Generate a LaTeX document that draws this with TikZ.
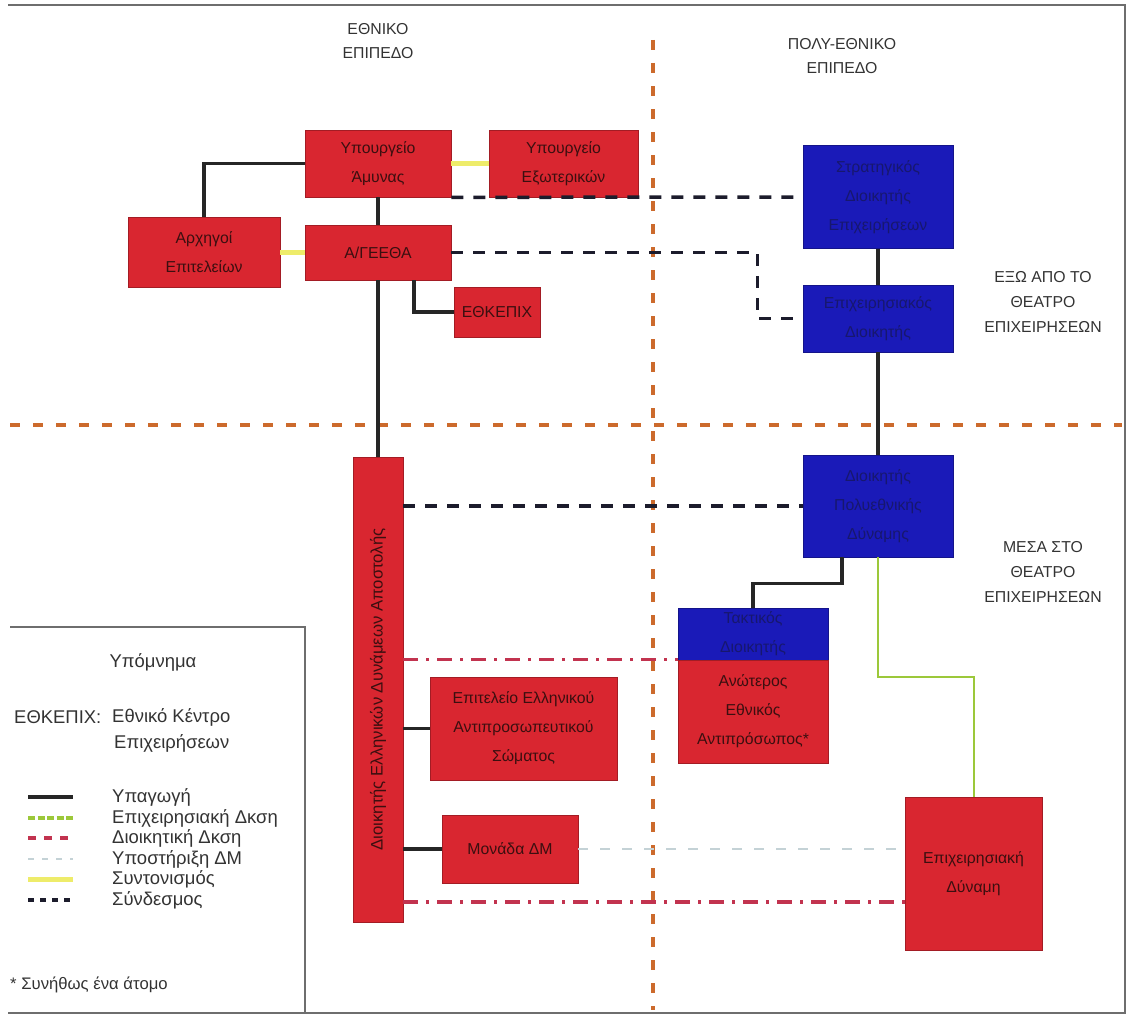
\documentclass[tikz,border=0pt]{standalone}
\usepackage{fontspec}
\setmainfont{Liberation Sans}
\usepackage{tikz}
\usetikzlibrary{positioning,calc}
\definecolor{natred}{HTML}{D92630}
\definecolor{mnblue}{HTML}{1A1AB8}
\definecolor{redink}{HTML}{3B0F10}
\definecolor{blueink}{HTML}{17176E}
\definecolor{headink}{HTML}{333333}
\definecolor{divorange}{HTML}{CC6A2C}
\definecolor{opgreen}{HTML}{9CC83A}
\definecolor{coordyellow}{HTML}{EEEC6A}
\definecolor{admred}{HTML}{C2334F}
\definecolor{dmgrey}{HTML}{C4D2D6}
\definecolor{liaisonink}{HTML}{1C1C2C}
\definecolor{frameink}{HTML}{6E6E6E}

\begin{document}
\begin{tikzpicture}[x=0.2mm,y=-0.2mm,font=\fontsize{9}{16.5}\selectfont,
  natbox/.style={draw=natred!75!black,fill=natred,text=redink,align=center,inner sep=1pt},
  mnbox/.style={draw=mnblue!75!black,fill=mnblue,text=blueink,align=center,inner sep=1pt},
  heading/.style={text=headink,align=center,font=\fontsize{9}{14}\selectfont},
  cmdline/.style={line width=0.7mm,black!85},
  coordline/.style={line width=1mm,coordyellow},
  liaison/.style={line width=0.7mm,liaisonink,dash pattern=on 2.4mm off 2mm},
  opline/.style={line width=0.4mm,opgreen},
  admline/.style={line width=0.7mm,admred,dash pattern=on 3mm off 1.6mm on 0.6mm off 1.6mm},
  dmline/.style={line width=0.5mm,dmgrey,dash pattern=on 2mm off 2.4mm},
  divline/.style={line width=0.8mm,divorange,dash pattern=on 2mm off 2.6mm},
  lgtext/.style={anchor=west,text=headink,font=\fontsize{10.5}{12}\selectfont}]
  \fill[white] (0,0) rectangle (1135,1016);
  \useasboundingbox (0,0) rectangle (1135,1016);
  % frame and level dividers
  \draw[frameink,line width=0.45mm] (8,5) -- (1125,5) -- (1125,1013) -- (8,1013);
  \draw[divline] (653,40) -- (653,1010);
  \draw[divline] (10,425) -- (1122,425);
  \node[heading] (natlvl) at (378,41) {ΕΘΝΙΚΟ\\ΕΠΙΠΕΔΟ};
  \node[heading] (mnlvl) at (842,56) {ΠΟΛΥ-ΕΘΝΙΚΟ\\ΕΠΙΠΕΔΟ};
  \node[heading] (outth) at (1043,302) {ΕΞΩ ΑΠΟ ΤΟ\\ΘΕΑΤΡΟ\\ΕΠΙΧΕΙΡΗΣΕΩΝ};
  \node[heading] (inth) at (1043,572) {ΜΕΣΑ ΣΤΟ\\ΘΕΑΤΡΟ\\ΕΠΙΧΕΙΡΗΣΕΩΝ};
  % national level
  \node[natbox,minimum width=29.2mm,minimum height=13.4mm] (ypam) at (378,163.5) {Υπουργείο\\Άμυνας};
  \node[natbox,minimum width=29.8mm,minimum height=13.4mm] (ypex) at (563.5,163.5) {Υπουργείο\\Εξωτερικών};
  \node[natbox,minimum width=30.4mm,minimum height=14mm] (arxig) at (204,252.5) {Αρχηγοί\\Επιτελείων};
  \node[natbox,minimum width=29.2mm,minimum height=11mm] (geetha) at (378,252.5) {Α/ΓΕΕΘΑ};
  \node[natbox,minimum width=17.2mm,minimum height=10mm] (ethkepix) at (497,312) {ΕΘΚΕΠΙΧ};
  \node[natbox,minimum width=10mm,minimum height=93mm,font=\fontsize{9.5}{12}\selectfont] (dked) at (378,689.5) {\rotatebox{90}{Διοικητής Ελληνικών Δυνάμεων Αποστολής}};
  \node[natbox,minimum width=37.4mm,minimum height=20.6mm] (epit) at (523.5,728.5) {Επιτελείο Ελληνικού\\Αντιπροσωπευτικού\\Σώματος};
  \node[natbox,minimum width=27.2mm,minimum height=13.6mm] (mdm) at (510,849) {Μονάδα ΔΜ};
  % multinational level
  \node[mnbox,minimum width=30mm,minimum height=20.6mm] (stratd) at (878,197) {Στρατηγικός\\Διοικητής\\Επιχειρήσεων};
  \node[mnbox,minimum width=30mm,minimum height=13.4mm] (epixd) at (878,318.5) {Επιχειρησιακός\\Διοικητής};
  \node[mnbox,minimum width=30mm,minimum height=20.4mm] (dpd) at (878,506) {Διοικητής\\Πολυεθνικής\\Δύναμης};
  \node[mnbox,minimum width=30mm,minimum height=10.4mm] (takd) at (753,634) {Τακτικός\\Διοικητής};
  \node[natbox,minimum width=30mm,minimum height=20.6mm] (aea) at (753,711.5) {Ανώτερος\\Εθνικός\\Αντιπρόσωπος*};
  \node[natbox,minimum width=27.4mm,minimum height=30.6mm] (epdyn) at (973.5,873.5) {Επιχειρησιακή\\Δύναμη};
  % connectors
  \draw[cmdline] (arxig.north) |- (ypam.west);
  \draw[cmdline] (ypam.south) -- (geetha.north);
  \draw[cmdline] ([xshift=7.2mm]geetha.south) |- (ethkepix.west);
  \draw[cmdline] (geetha.south) -- (dked.north);
  \draw[cmdline] (dked.east |- epit.west) -- (epit.west);
  \draw[cmdline] (dked.east |- mdm.west) -- (mdm.west);
  \draw[cmdline] (stratd.south) -- (epixd.north);
  \draw[cmdline] (epixd.south) -- (dpd.north);
  \draw[cmdline] ([xshift=-7.2mm]dpd.south) -- ++(0,26) -| (takd.north);
  \draw[coordline] (ypam.east) -- (ypex.west);
  \draw[coordline] (arxig.east) -- (geetha.west);
  \draw[liaison] (ypam.south east) -- (stratd.west);
  \draw[liaison] (geetha.east) -| ([xshift=-9mm]epixd.west) -- (epixd.west);
  \draw[liaison] (dked.east |- dpd.west) -- (dpd.west);
  \draw[opline] (dpd.south) -- ++(0,120) -| (epdyn.north);
  \coordinate (admlow) at (905,902);
  \draw[admline] (dked.east |- aea.north west) -- (aea.north west);
  \draw[admline] (dked.east |- admlow) -- (epdyn.west |- admlow);
  \draw[dmline] (mdm.east) -- (epdyn.west |- mdm.east);
  % legend
  \draw[frameink,line width=0.3mm] (10,627) -- (305,627) -- (305,1013);
  \node[text=headink,font=\fontsize{10.5}{12}\selectfont] (lgtitle) at (153,662) {Υπόμνημα};
  \node[lgtext] (lgabbr) at (8,717) {ΕΘΚΕΠΙΧ:};
  \node[lgtext] (lgabbr1) at (106,717) {Εθνικό Κέντρο};
  \node[lgtext] (lgabbr2) at (108,743) {Επιχειρήσεων};
  \def\lgrow#1#2#3{
    \draw[#2] (28,#1) -- (73,#1);
    \node[lgtext] at (106,#1) {#3};}
  \lgrow{797}{cmdline}{Υπαγωγή}
  \lgrow{818}{opline,line width=0.7mm,dash pattern=on 1.4mm off 0.5mm}{Επιχειρησιακή Δκση}
  \lgrow{838}{admline,dash pattern=on 1.6mm off 1.6mm}{Διοικητική Δκση}
  \lgrow{859}{dmline,dash pattern=on 1.2mm off 1.6mm}{Υποστήριξη ΔΜ}
  \lgrow{879}{coordline}{Συντονισμός}
  \lgrow{900}{liaison,dash pattern=on 1.2mm off 1.2mm}{Σύνδεσμος}
  \node[lgtext,font=\fontsize{9.5}{12}\selectfont] (lgnote) at (4,985) {* Συνήθως ένα άτομο};
\end{tikzpicture}
\end{document}
